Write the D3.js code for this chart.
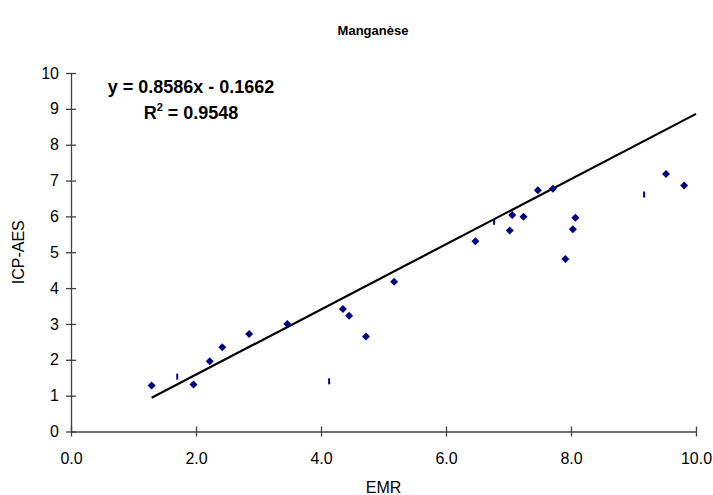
<!DOCTYPE html>
<html>
<head>
<meta charset="utf-8">
<script src="https://cdn.jsdelivr.net/npm/d3@7"></script>
<style>
body { margin: 0; background: #fff; }
text { font-family: "Liberation Sans", Arial, sans-serif; }
</style>
</head>
<body>
<div id="chart"></div>
<script>
// diamond markers
var emr = [1.29, 1.96, 2.22, 2.42, 2.85, 3.46, 4.35, 4.45, 4.72, 5.17, 6.47, 7.02, 7.06, 7.24, 7.47, 7.71, 7.91, 8.03, 8.07, 9.52, 9.81];
var icp = [1.28, 1.31, 1.96, 2.35, 2.72, 3.00, 3.42, 3.23, 2.65, 4.18, 5.31, 5.61, 6.04, 5.99, 6.73, 6.77, 4.81, 5.64, 5.96, 7.18, 6.86];
// points drawn as thin marks
var emrThin = [1.70, 4.13, 6.77, 9.17];
var icpThin = [1.53, 1.40, 5.85, 6.61];
// trend line ends as drawn
var trendX = [1.29, 10.0];
var trendY = [0.94, 8.86];

var xTicks = [0, 2, 4, 6, 8, 10];
var yTicks = [0, 1, 2, 3, 4, 5, 6, 7, 8, 9, 10];

var margin = {top: 73, right: 17, bottom: 63.5, left: 71};
var W = 713, H = 495;
var width = W - margin.left - margin.right;
var height = H - margin.top - margin.bottom;

var svg = d3.select("#chart").append("svg")
    .attr("width", W)
    .attr("height", H);

var g = svg.append("g")
    .attr("transform", "translate(" + margin.left + "," + margin.top + ")");

var x = d3.scaleLinear().domain([0, 10]).range([0, width]);
var y = d3.scaleLinear().domain([0, 10]).range([height, 0]);

var axisColor = "#404040";

var xAxis = g.append("g")
    .attr("transform", "translate(0," + height + ")")
    .call(d3.axisBottom(x).tickValues(xTicks).tickFormat(d3.format(".1f")).tickSize(5).tickSizeOuter(0));
xAxis.selectAll(".tick line").attr("y1", -5);
xAxis.selectAll("text").attr("y", 21).attr("dy", "0.71em");

var yAxis = g.append("g")
    .call(d3.axisLeft(y).tickValues(yTicks).tickFormat(d3.format("d")).tickSize(5).tickSizeOuter(0));
yAxis.selectAll(".tick line").attr("x1", 5);
yAxis.selectAll("text").attr("x", -12);

svg.selectAll(".domain, .tick line").attr("stroke", axisColor).attr("stroke-width", 1.3);
svg.selectAll(".tick text").attr("fill", "#000").style("font-size", "16px");

// trend line
g.append("line")
    .attr("x1", x(trendX[0])).attr("y1", y(trendY[0]))
    .attr("x2", x(trendX[1])).attr("y2", y(trendY[1]))
    .attr("stroke", "#000")
    .attr("stroke-width", 2.2);

var navy = "#000080";
var pts = emr.map(function(d, i) { return {x: d, y: icp[i]}; });
g.selectAll(".pt").data(pts).enter().append("path")
    .attr("class", "pt")
    .attr("transform", function(d) { return "translate(" + x(d.x) + "," + y(d.y) + ")"; })
    .attr("d", "M0,-4L4,0L0,4L-4,0Z")
    .attr("fill", navy);

var thin = emrThin.map(function(d, i) { return {x: d, y: icpThin[i]}; });
g.selectAll(".thin").data(thin).enter().append("rect")
    .attr("class", "thin")
    .attr("x", function(d) { return x(d.x) - 1; })
    .attr("y", function(d) { return y(d.y) - 3; })
    .attr("width", 2)
    .attr("height", 6)
    .attr("fill", navy);

// titles
svg.append("text")
    .attr("x", 373).attr("y", 35)
    .attr("text-anchor", "middle")
    .style("font-size", "13px").style("font-weight", "bold")
    .text("Manganèse");

svg.append("text")
    .attr("x", 191).attr("y", 93)
    .attr("text-anchor", "middle")
    .style("font-size", "18px").style("font-weight", "bold")
    .text("y = 0.8586x - 0.1662");

var r2 = svg.append("text")
    .attr("x", 191).attr("y", 119)
    .attr("text-anchor", "middle")
    .style("font-size", "18px").style("font-weight", "bold");
r2.append("tspan").text("R");
r2.append("tspan").attr("dy", -8).style("font-size", "11px").text("2");
r2.append("tspan").attr("dy", 8).text(" = 0.9548");

svg.append("text")
    .attr("x", margin.left + width / 2).attr("y", 493)
    .attr("text-anchor", "middle")
    .style("font-size", "16px")
    .text("EMR");

svg.append("text")
    .attr("transform", "translate(24," + (margin.top + height / 2) + ") rotate(-90)")
    .attr("text-anchor", "middle")
    .style("font-size", "16px")
    .text("ICP-AES");
</script>
</body>
</html>
